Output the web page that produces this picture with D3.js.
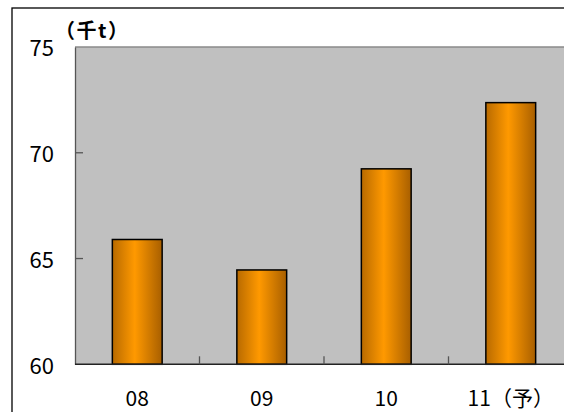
<!DOCTYPE html>
<html>
<head>
<meta charset="utf-8">
<script src="https://cdn.jsdelivr.net/npm/d3@7"></script>
<style>
html,body{margin:0;padding:0;background:#fff;}
svg{display:block;}
text{font-family:"Noto Sans CJK JP","Noto Sans",sans-serif;fill:#000;}
</style>
</head>
<body>
<svg id="chart" width="564" height="412"></svg>
<script>
const categories = ["08", "09", "10", "11（予）"];
const values = [65.9, 64.46, 69.24, 72.37];
const yTicks = [60, 65, 70, 75];
const unitLabel = "（千t）";

const svg = d3.select("#chart");
const plot = {left: 75, top: 47, right: 573, bottom: 364.3};
const FF = '"Noto Sans CJK JP","Noto Sans",sans-serif';

// outer frame
svg.append("rect").attr("x", 12).attr("y", 8).attr("width", 600).attr("height", 450)
  .attr("fill", "#fff").attr("stroke", "#000").attr("stroke-width", 1.3);

const x = d3.scaleBand().domain(categories).range([plot.left, plot.right])
  .paddingInner(0.6).paddingOuter(0.3);
const y = d3.scaleLinear().domain([60, 75]).range([plot.bottom, plot.top]);

// gradient
const defs = svg.append("defs");
const g = defs.append("linearGradient").attr("id", "barGrad")
  .attr("x1", "0%").attr("x2", "100%").attr("y1", "0%").attr("y2", "0%");
g.append("stop").attr("offset", "0%").attr("stop-color", "#b86a00");
g.append("stop").attr("offset", "45%").attr("stop-color", "#ff9900");
g.append("stop").attr("offset", "100%").attr("stop-color", "#a85f00");

// plot area
svg.append("rect").attr("x", plot.left).attr("y", plot.top)
  .attr("width", plot.right - plot.left).attr("height", plot.bottom - plot.top)
  .attr("fill", "#c0c0c0");
svg.append("line").attr("x1", plot.left).attr("x2", plot.right)
  .attr("y1", plot.top).attr("y2", plot.top)
  .attr("stroke", "#8a8a8a").attr("stroke-width", 1.5);

// bars
svg.selectAll("rect.bar").data(values).enter().append("rect")
  .attr("class", "bar")
  .attr("x", (d, i) => x(categories[i]))
  .attr("width", x.bandwidth())
  .attr("y", d => y(d))
  .attr("height", d => y(60) - y(d))
  .attr("fill", "url(#barGrad)")
  .attr("stroke", "#000").attr("stroke-width", 1.5);

// y axis
const yAxis = d3.axisLeft(y).tickValues(yTicks).tickSize(0).tickPadding(21);
const ya = svg.append("g").attr("transform", `translate(${plot.left},0)`).call(yAxis);
ya.select(".domain").attr("stroke", "#555").attr("stroke-width", 1.3);
ya.selectAll("text").attr("font-size", 22).attr("dy", "0.4em")
  .style("font-family", FF);
// inward ticks
svg.selectAll("line.ytick").data(yTicks.filter(t => t > 60 && t < 75)).enter().append("line")
  .attr("class", "ytick")
  .attr("x1", plot.left).attr("x2", plot.left + 8)
  .attr("y1", d => y(d)).attr("y2", d => y(d))
  .attr("stroke", "#555").attr("stroke-width", 1.3);

// x axis
const xAxis = d3.axisBottom(x).tickSize(0).tickPadding(27);
const xa = svg.append("g").attr("transform", `translate(0,${plot.bottom})`).call(xAxis);
xa.select(".domain").remove();
xa.selectAll("text").attr("font-size", 21)
  .style("font-family", FF);
svg.append("line").attr("x1", plot.left).attr("x2", plot.right)
  .attr("y1", plot.bottom).attr("y2", plot.bottom)
  .attr("stroke", "#222").attr("stroke-width", 1.5);
// category boundary ticks
const bounds = categories.slice(1).map(c => x(c) - x.step() * x.paddingInner() / 2);
svg.selectAll("line.xtick").data(bounds).enter().append("line")
  .attr("class", "xtick")
  .attr("x1", d => d).attr("x2", d => d)
  .attr("y1", plot.bottom).attr("y2", plot.bottom - 8)
  .attr("stroke", "#555").attr("stroke-width", 1.3);

// unit label
svg.append("text").attr("x", 55).attr("y", 38).attr("font-size", 20)
  .attr("font-weight", "bold").attr("letter-spacing", 1.5)
  .style("font-family", FF).text(unitLabel);
</script>
</body>
</html>
